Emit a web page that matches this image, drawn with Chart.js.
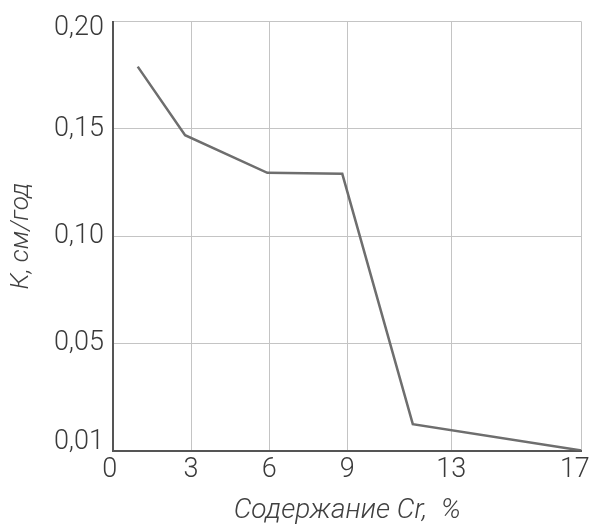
<!DOCTYPE html>
<html>
<head>
<meta charset="utf-8">
<script src="https://cdn.jsdelivr.net/npm/chart.js@4"></script>
<style>
  html, body { margin: 0; padding: 0; background: #fff; }
  canvas { display: block; }
</style>
</head>
<body>
<canvas id="myChart" width="607" height="524"></canvas>
<script>
// содержание Cr (по шкале рисунка) и скорость коррозии К
const crContent = [0.95, 2.77, 5.93, 8.81, 11.52, 18];
const kValues = [0.179, 0.147, 0.1295, 0.129, 0.0123, 0];

const xTickPos = [0, 3, 6, 9, 13, 18];
const xTickLabels = ['0', '3', '6', '9', '13', '17'];
const yTickPos = [0, 0.05, 0.10, 0.15, 0.20];
const yTickLabels = ['0,01', '0,05', '0,10', '0,15', '0,20'];

const FONT = 'Roboto';
const TICK_SIZE = 27;

const ctx = document.getElementById('myChart');

const data = {
  datasets: [
    {
      data: crContent.map((x, i) => ({ x: x, y: kValues[i] })),
      borderColor: '#6e6e6e',
      borderWidth: 2.5,
      pointRadius: 0,
      tension: 0
    }
  ]
};

const options = {
  responsive: false,
  animation: false,
  layout: { padding: { top: 19, right: 7, left: 0, bottom: 0 }, autoPadding: false },
  plugins: { legend: { display: false }, tooltip: { enabled: false } },
  scales: {
    x: {
      type: 'linear',
      min: 0,
      max: 18,
      afterBuildTicks: (s) => { s.ticks = xTickPos.map(v => ({ value: v })); },
      afterFit: (s) => { s.height = 73.5; },
      grid: { color: '#c4c4c4', lineWidth: 1, drawTicks: false },
      border: { color: '#555', width: 2 },
      ticks: {
        padding: 4,
        color: '#3a3a3a',
        font: { family: FONT, size: TICK_SIZE, weight: 300 },
        maxRotation: 0,
        callback: (v, i) => {
          const t = xTickLabels[i];
          if (i === 0) return t + ' ';
          if (i === xTickLabels.length - 1) return t + '  ';
          return t;
        }
      },
      title: {
        display: true,
        text: 'Содержание Cr,  %',
        color: '#404040',
        font: { family: FONT, size: 28, weight: 300, style: 'italic', lineHeight: 0.93 },
        padding: 0
      }
    },
    y: {
      min: 0,
      max: 0.2,
      afterBuildTicks: (s) => { s.ticks = yTickPos.map(v => ({ value: v })); },
      afterFit: (s) => { s.width = 113; },
      grid: { color: '#c4c4c4', lineWidth: 1, drawTicks: false },
      border: { color: '#555', width: 2 },
      ticks: {
        padding: 9,
        color: '#3a3a3a',
        font: (c) => {
          let lh = 1.2;
          if (c.index === 0) lh = 17 / TICK_SIZE;
          if (c.index === yTickLabels.length - 1) lh = 12.6 / TICK_SIZE;
          return { family: FONT, size: TICK_SIZE, weight: 300, lineHeight: lh };
        },
        callback: (v, i) => {
          const t = yTickLabels[i];
          if (i === 0) return [t, ''];
          if (i === yTickLabels.length - 1) return ['', t];
          return t;
        }
      },
      title: {
        display: true,
        text: 'К, см/год',
        color: '#404040',
        font: { family: FONT, size: 26, weight: 300, style: 'italic', lineHeight: 1.2 },
        padding: { top: 6, bottom: 0 }
      }
    }
  }
};

new Chart(ctx, {
  type: 'line',
  data: data,
  options: options
});
</script>
</body>
</html>
